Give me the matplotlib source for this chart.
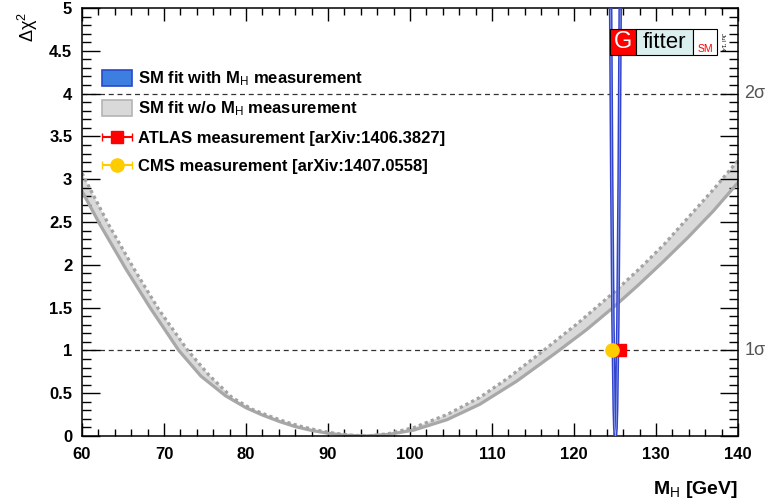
import matplotlib
matplotlib.use("Agg")
import matplotlib.pyplot as plt
from matplotlib.patches import Patch, Rectangle
from matplotlib.ticker import MultipleLocator, FuncFormatter
from matplotlib.legend_handler import HandlerErrorbar
from matplotlib.container import ErrorbarContainer
import matplotlib.transforms as mtransforms

plt.rcParams["font.family"] = ["Liberation Sans", "DejaVu Sans"]
plt.rcParams["mathtext.fontset"] = "custom"
plt.rcParams["mathtext.rm"] = "Liberation Sans"
plt.rcParams["mathtext.it"] = "Liberation Sans:italic"
plt.rcParams["mathtext.bf"] = "Liberation Sans:bold"

# SM fit w/o M_H: lower (solid) and upper (dotted) edge of the band
solid_mh = [60, 62.2, 65.3, 68.3, 71.8, 74.5, 77.5, 80, 82, 84.2, 86, 88, 90, 92,
            94.5, 97.5, 100.5, 104.5, 108.5, 113, 117.9, 121.5, 125.0, 127.8,
            130.8, 133.9, 137.0, 140]
solid_chi2 = [2.86, 2.47, 1.96, 1.50, 1.00, 0.70, 0.47, 0.33, 0.245, 0.165, 0.11,
              0.065, 0.032, 0.01, 0.0, 0.02, 0.07, 0.19, 0.37, 0.64, 0.98, 1.24,
              1.52, 1.76, 2.03, 2.32, 2.63, 2.96]

dotted_mh = [60, 63.25, 66.3, 69.35, 72.9, 75.5, 78.3, 80.8, 82.8, 85, 86.8, 88.8,
             90.8, 92.8, 95, 97.5, 100.5, 104.5, 108.5, 112, 115.9, 120.5, 125.0,
             128.05, 131, 133.9, 137, 140]
dotted_chi2 = [3.07, 2.47, 1.96, 1.48, 1.00, 0.71, 0.45, 0.31, 0.235, 0.16, 0.11,
               0.065, 0.032, 0.01, 0.0, 0.03, 0.10, 0.25, 0.45, 0.68, 0.97, 1.32,
               1.69, 1.96, 2.24, 2.55, 2.88, 3.22]

# SM fit with M_H measurement
with_mh = [124.47, 124.6, 124.75, 124.9, 124.97, 125.05, 125.13, 125.2, 125.35, 125.5, 125.63]
with_chi2 = [4.98, 3.0, 1.33, 0.33, 0.09, 0.0, 0.09, 0.33, 1.33, 3.0, 4.98]

# measurements (as placed in the figure)
atlas_mh, atlas_err = 125.6, 0.41
cms_mh, cms_err = 124.65, 0.30

x_ticks = [60, 70, 80, 90, 100, 110, 120, 130, 140]
y_ticks = [0, 0.5, 1, 1.5, 2, 2.5, 3, 3.5, 4, 4.5, 5]
sigma_levels = [1, 4]
sigma_labels = ["1σ", "2σ"]

fig = plt.figure(figsize=(7.67, 5.04), dpi=100)
ax = fig.add_axes([0.1069, 0.1349, 0.8553, 0.8492])

band_x = solid_mh + dotted_mh[::-1]
band_y = solid_chi2 + dotted_chi2[::-1]
ax.fill(band_x, band_y, color="#d9d9d9", lw=0, zorder=1)
ax.plot(solid_mh, solid_chi2, color="#a8a8a8", lw=2.3, zorder=2)
ax.plot(dotted_mh, dotted_chi2, color="#a3a3a3", lw=2.3, ls=(0, (1, 1)), zorder=2)

ax.plot(with_mh, with_chi2, color="#3344cc", lw=2.6, zorder=3)
ax.plot(with_mh, with_chi2, color="#9fb4f0", lw=0.5, zorder=3)

for lvl, lab in zip(sigma_levels, sigma_labels):
    ax.axhline(lvl, color="#333333", lw=0.9, ls=(0, (4, 3)), zorder=0.5)
    tr = mtransforms.blended_transform_factory(ax.transAxes, ax.transData)
    ax.text(1.01, lvl, lab, transform=tr, ha="left", va="center",
            fontsize=13, color="#555555")

atlas = ax.errorbar([atlas_mh], [1], xerr=[atlas_err], fmt="s", color="#ff0000",
                    ms=8, capsize=3, lw=1.5, zorder=5)
cms = ax.errorbar([cms_mh], [1], xerr=[cms_err], fmt="o", color="#ffcc00",
                  ms=9.5, capsize=3, lw=1.5, zorder=6)

ax.set_xlim(60, 140)
ax.set_ylim(0, 5)
ax.set_xticks(x_ticks)
ax.set_yticks(y_ticks)
ax.xaxis.set_minor_locator(MultipleLocator(2))
ax.yaxis.set_minor_locator(MultipleLocator(0.1))
ax.yaxis.set_major_formatter(FuncFormatter(lambda v, p: "%g" % v))
ax.tick_params(axis="both", which="both", direction="in", top=True, right=True,
               width=1.0, labelsize=12)
ax.tick_params(axis="x", which="major", length=9.5, pad=8)
ax.tick_params(axis="x", which="minor", length=4.7)
ax.tick_params(axis="y", which="major", length=13, pad=7)
ax.tick_params(axis="y", which="minor", length=6.5)
for lbl in ax.get_xticklabels() + ax.get_yticklabels():
    lbl.set_fontweight("bold")
for sp in ax.spines.values():
    sp.set_linewidth(1.1)

ax.set_xlabel(r"M$_{\mathrm{H}}$ [GeV]", loc="right", fontsize=14, fontweight="bold",
              labelpad=12)
ax.text(-0.083, 0.99, r"$\mathrm{\Delta\chi}^{2}$", transform=ax.transAxes,
        rotation=90, ha="center", va="top", fontsize=13)

handles = [
    Patch(facecolor="#3c7fe0", edgecolor="#2a48c8", lw=1.2),
    Patch(facecolor="#d9d9d9", edgecolor="#b4b4b4", lw=1.2),
    atlas,
    cms,
]
labels = [
    r"SM fit with M$_{\mathrm{H}}$ measurement",
    r"SM fit w/o M$_{\mathrm{H}}$ measurement",
    "ATLAS measurement [arXiv:1406.3827]",
    "CMS measurement [arXiv:1407.0558]",
]
leg = ax.legend(handles, labels, loc="upper left", bbox_to_anchor=(0.0305, 0.856),
                frameon=False, borderpad=0, borderaxespad=0, handlelength=1.8,
                handleheight=1.1, handletextpad=0.35, labelspacing=0.68,
                handler_map={ErrorbarContainer: HandlerErrorbar(xerr_size=0.9)},
                prop={"weight": "bold", "size": 12})

# Gfitter logo
logo = [(0.805, 0.8445, "#ff0000"), (0.8445, 0.9314, "#dcefef"), (0.9314, 0.968, "#ffffff")]
for x0, x1, c in logo:
    ax.add_patch(Rectangle((x0, 0.890), x1 - x0, 0.061, transform=ax.transAxes,
                           facecolor=c, edgecolor="black", lw=0.8, zorder=10,
                           clip_on=False))
ax.text(0.8248, 0.9205, "G", transform=ax.transAxes, ha="center", va="center",
        color="white", fontsize=17, zorder=11)
ax.text(0.888, 0.919, "fitter", transform=ax.transAxes, ha="center", va="center",
        color="black", fontsize=16, zorder=11)
ax.text(0.9497, 0.905, "SM", transform=ax.transAxes, ha="center", va="center",
        color="#ff0000", fontsize=7.5, zorder=11)
ax.text(0.9757, 0.921, "Jul '14", transform=ax.transAxes, ha="center", va="center",
        rotation=-90, color="black", fontsize=4.5, zorder=11)

fig.savefig("out.png", dpi=100)
